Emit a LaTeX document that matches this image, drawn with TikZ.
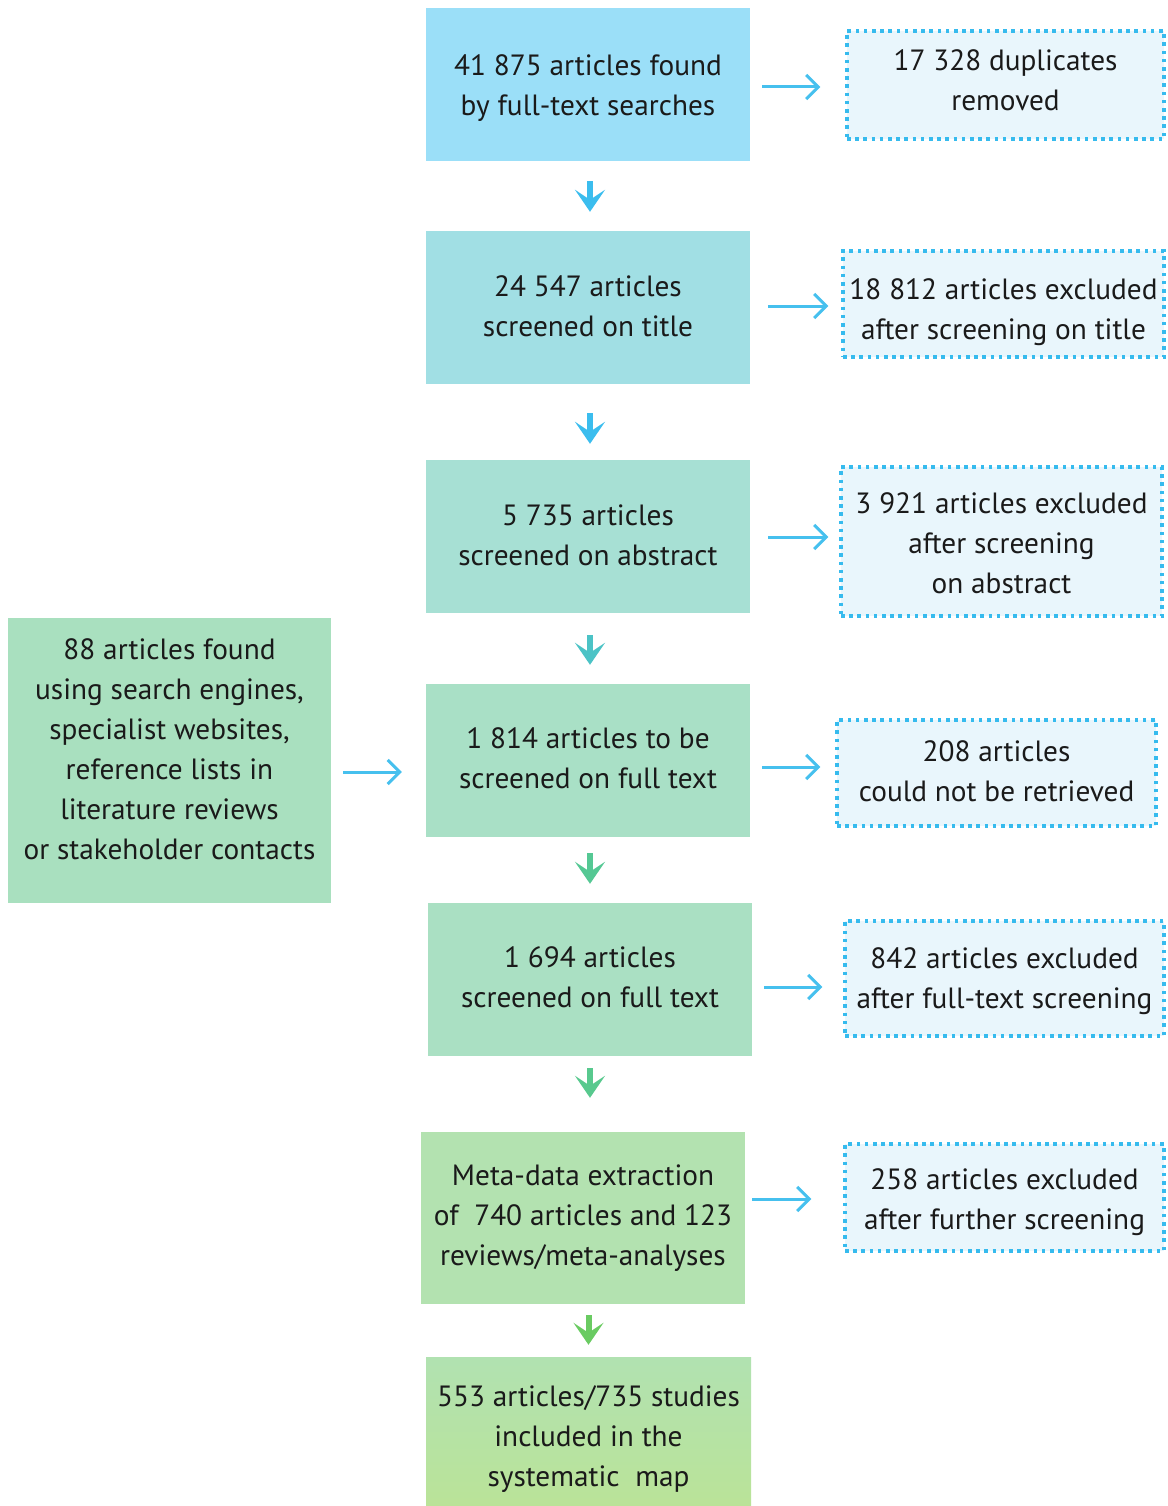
\documentclass[tikz,border=0pt]{standalone}
\usepackage{fontspec}
\setmainfont{PT Sans}
\usetikzlibrary{arrows.meta,calc}
\definecolor{cA}{HTML}{9BDFF8}
\definecolor{cB}{HTML}{A1DFE4}
\definecolor{cC}{HTML}{A7E0D4}
\definecolor{cD}{HTML}{A9E0C6}
\definecolor{cE}{HTML}{AAE0C3}
\definecolor{cF}{HTML}{B3E2B0}
\definecolor{cGt}{HTML}{B1E2B1}
\definecolor{cGb}{HTML}{BAE398}
\definecolor{cL}{HTML}{A9E0BF}
\definecolor{exfill}{HTML}{E9F6FC}
\definecolor{exline}{HTML}{36BBEE}
\definecolor{rarr}{HTML}{46C0EE}
\definecolor{dA}{HTML}{3BBDEE}
\definecolor{dC}{HTML}{4CC3C6}
\definecolor{dD}{HTML}{55C894}
\definecolor{dE}{HTML}{58C98E}
\definecolor{dF}{HTML}{6ACB62}
\definecolor{txt}{HTML}{1A1A1A}
\tikzset{
  x=1pt, y=-1pt,
  txtlift/.style={text depth=0pt, text height=#1},
  mainbox/.style={minimum width=324pt, minimum height=153pt, inner sep=0pt, align=center, text=txt,
    font=\fontsize{29.3}{40}\selectfont},
  exbox/.style={draw=exline, fill=exfill, line width=3.4pt, dash pattern=on 3.6pt off 4.6pt,
    inner sep=0pt, align=center, text=txt, font=\fontsize{29.3}{40}\selectfont},
  downarr/.style={line width=6pt, -{Stealth[length=22pt, width=30pt, inset=10pt]}},
  rightarr/.style={rarr, line width=3pt, -{Straight Barb[length=12pt, width=24pt, line width=3pt]}},
}
\begin{document}
\begin{tikzpicture}
\useasboundingbox (0,0) rectangle (1167,1506);
% main column
\node[mainbox, fill=cA, txtlift=63pt] (b1) at (588,84.5) {41 875 articles found\\by full-text searches};
\node[mainbox, fill=cB, txtlift=57pt] (b2) at (588,307.5) {24 547 articles\\screened on title};
\node[mainbox, fill=cC, txtlift=57pt] (b3) at (588,536.5) {5 735 articles\\screened on abstract};
\node[mainbox, fill=cD, txtlift=55pt] (b4) at (588,760.5) {1 814 articles to be\\screened on full text};
\node[mainbox, fill=cE, txtlift=55pt] (b5) at (590,979.5) {1 694 articles\\screened on full text};
\node[mainbox, fill=cF, minimum height=172pt, txtlift=94pt] (b6) at (583,1218) {Meta-data extraction\\of~ 740 articles and 123\\reviews/meta-analyses};
\node[mainbox, top color=cGt, bottom color=cGb, minimum width=325pt, minimum height=149pt, txtlift=109pt] (b7) at (588.5,1431.5) {553 articles/735 studies\\included in the\\systematic~ map};
% left box
\node[mainbox, fill=cL, minimum width=323pt, minimum height=285pt, txtlift=197pt] (lb) at (169.5,760.5) {88 articles found\\using search engines,\\specialist websites,\\reference lists in\\literature reviews\\or stakeholder contacts};
% exclusion boxes
\node[exbox, minimum width=317pt, minimum height=108pt, txtlift=52pt] (r1) at (1005.5,85) {17 328 duplicates\\removed};
\node[exbox, minimum width=321pt, minimum height=106pt, txtlift=70pt] (r2) at (1003.5,304) {18 812 articles excluded\\after screening on title};
\node[exbox, minimum width=321pt, minimum height=149pt, txtlift=103pt] (r3) at (1001.5,541.5) {3 921 articles excluded\\after screening\\on abstract};
\node[exbox, minimum width=319pt, minimum height=106pt, txtlift=56pt] (r4) at (996.5,773) {208 articles\\could not be retrieved};
\node[exbox, minimum width=319pt, minimum height=115pt, txtlift=59pt] (r5) at (1004.5,978.5) {842 articles excluded\\after full-text screening};
\node[exbox, minimum width=319pt, minimum height=107pt, txtlift=63pt] (r6) at (1004.5,1197.5) {258 articles excluded\\after further screening};
% down arrows
\draw[downarr, dA, shorten <=20pt, shorten >=19pt] ([xshift=2pt]b1.south) -- ([xshift=2pt]b2.north);
\draw[downarr, dA, shorten <=29pt, shorten >=16pt] ([xshift=2pt]b2.south) -- ([xshift=2pt]b3.north);
\draw[downarr, dC, shorten <=22pt, shorten >=19pt] ([xshift=2pt]b3.south) -- ([xshift=2pt]b4.north);
\draw[downarr, dD, shorten <=16pt, shorten >=19pt] ([xshift=2pt]b4.south) -- ([xshift=2pt]b4.south |- b5.north);
\draw[downarr, dE, shorten <=12pt, shorten >=34pt] (b5.south) -- (b5.south |- b6.north);
\draw[downarr, dF, shorten <=11pt, shorten >=12pt] (b6.south -| b7.north) -- (b7.north);
% right arrows (canvas yshift: positive is up)
\draw[rightarr, shorten <=12pt, shorten >=25pt] ([yshift=-2.5pt]b1.east) -- ([yshift=-2.5pt]b1.east -| r1.west);
\draw[rightarr, shorten <=18pt, shorten >=13pt] ([yshift=1.5pt]b2.east) -- ([yshift=1.5pt]b2.east -| r2.west);
\draw[rightarr, shorten <=18pt, shorten >=11pt] ([yshift=-0.5pt]b3.east) -- ([yshift=-0.5pt]b3.east -| r3.west);
\draw[rightarr, shorten <=12pt, shorten >=15pt] ([yshift=-6.5pt]b4.east) -- ([yshift=-6.5pt]b4.east -| r4.west);
\draw[rightarr, shorten <=12pt, shorten >=21pt] ([yshift=-7.5pt]b5.east) -- ([yshift=-7.5pt]b5.east -| r5.west);
\draw[rightarr, shorten <=7pt, shorten >=32pt] ([yshift=19pt]b6.east) -- ([yshift=19pt]b6.east -| r6.west);
\draw[rightarr, shorten <=12pt, shorten >=24pt] ([yshift=-11.5pt]lb.east) -- ([yshift=-11.5pt]lb.east -| b4.west);
\end{tikzpicture}
\end{document}
